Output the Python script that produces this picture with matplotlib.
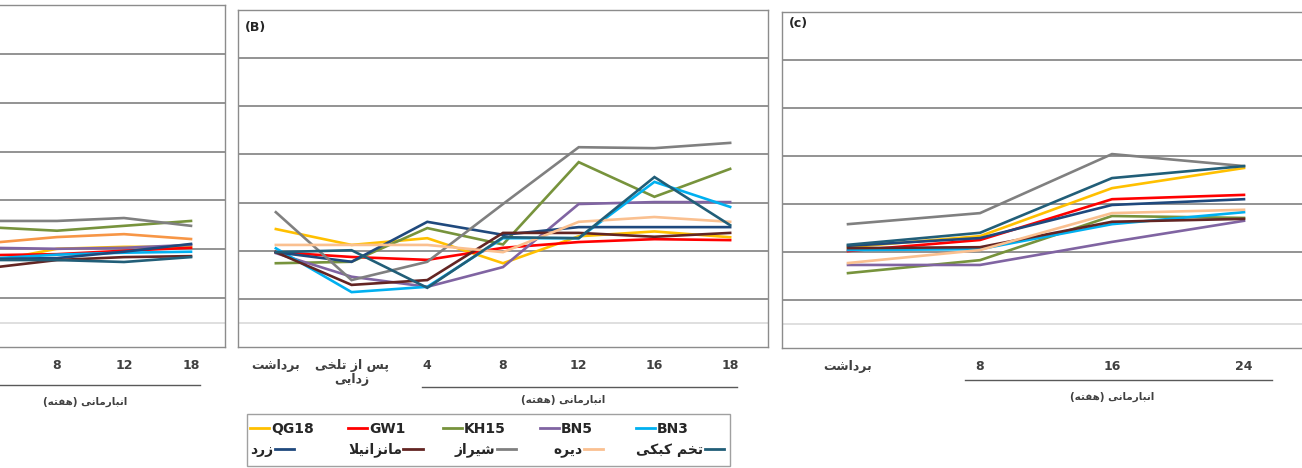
import matplotlib
matplotlib.use("Agg")
import matplotlib.pyplot as plt
from matplotlib.lines import Line2D
from matplotlib.patches import Rectangle

plt.rcParams["font.family"] = ["DejaVu Sans"]

# ---- data (arbitrary units; gridlines at 1..6) ----
series = ["QG18", "GW1", "KH15", "BN5", "BN3",
          "زرد", "مانزانیلا", "شیراز", "دیره", "تخم کبکی"]
colors = ["#FFC000", "#FF0000", "#77933C", "#8064A2", "#00B0F0",
          "#1F497D", "#632523", "#808080", "#FAC090", "#215E78"]

# panel A is cut by the left edge of the picture: its week-4 point lies off-screen
a_cats = ["4", "8", "12", "18"]
a_qg18 = [1.75, 2.01, 2.05, 2.05]
a_gw1 = [1.88, 1.90, 1.97, 2.03]
a_kh15 = [2.45, 2.38, 2.48, 2.58]
a_bn5 = [2.03, 2.01, 2.03, 2.09]
a_bn3 = [1.81, 1.89, 1.93, 1.95]
a_zard = [1.80, 1.82, 1.95, 2.11]
a_manz = [1.62, 1.78, 1.84, 1.86]
a_shiraz = [2.58, 2.58, 2.64, 2.48]
a_dire = [2.13, 2.25, 2.31, 2.21]
a_tokhm = [1.78, 1.78, 1.74, 1.84]

b_cats = ["برداشت", "پس از تلخی\nزدایی", "4", "8", "12", "16", "18"]
b_qg18 = [2.45, 2.12, 2.26, 1.74, 2.30, 2.40, 2.28]
b_gw1 = [1.97, 1.87, 1.81, 2.06, 2.18, 2.24, 2.22]
b_kh15 = [1.74, 1.77, 2.47, 2.13, 3.84, 3.12, 3.70]
b_bn5 = [1.95, 1.46, 1.25, 1.66, 2.97, 3.01, 3.01]
b_bn3 = [2.05, 1.14, 1.25, 2.26, 2.26, 3.43, 2.91]
b_zard = [1.97, 1.77, 2.60, 2.33, 2.49, 2.49, 2.49]
b_manz = [1.97, 1.29, 1.39, 2.37, 2.37, 2.29, 2.37]
b_shiraz = [2.80, 1.39, 1.77, 2.97, 4.15, 4.13, 4.24]
b_dire = [2.12, 2.12, 2.12, 1.97, 2.60, 2.70, 2.60]
b_tokhm = [1.97, 2.01, 1.23, 2.28, 2.26, 3.53, 2.53]

c_cats = ["برداشت", "8", "16", "24"]
c_qg18 = [2.10, 2.33, 3.33, 3.75]
c_gw1 = [2.02, 2.25, 3.10, 3.19]
c_kh15 = [1.56, 1.83, 2.75, 2.71]
c_bn5 = [1.73, 1.73, 2.21, 2.65]
c_bn3 = [2.04, 2.06, 2.58, 2.83]
c_zard = [2.13, 2.29, 2.98, 3.10]
c_manz = [2.08, 2.10, 2.63, 2.69]
c_shiraz = [2.58, 2.81, 4.04, 3.79]
c_dire = [1.77, 2.04, 2.81, 2.88]
c_tokhm = [2.15, 2.40, 3.54, 3.79]

xlabel = "انبارمانی (هفته)"

# ---- minimal Persian shaping (matplotlib has no bidi / joining) ----
FORMS = {
    "ا": ("\uFE8D", "\uFE8E", None, None),
    "ب": ("\uFE8F", "\uFE90", "\uFE91", "\uFE92"),
    "پ": ("\uFB56", "\uFB57", "\uFB58", "\uFB59"),
    "ت": ("\uFE95", "\uFE96", "\uFE97", "\uFE98"),
    "خ": ("\uFEA5", "\uFEA6", "\uFEA7", "\uFEA8"),
    "د": ("\uFEA9", "\uFEAA", None, None),
    "ر": ("\uFEAD", "\uFEAE", None, None),
    "ز": ("\uFEAF", "\uFEB0", None, None),
    "س": ("\uFEB1", "\uFEB2", "\uFEB3", "\uFEB4"),
    "ش": ("\uFEB5", "\uFEB6", "\uFEB7", "\uFEB8"),
    "ف": ("\uFED1", "\uFED2", "\uFED3", "\uFED4"),
    "ک": ("\uFB8E", "\uFB8F", "\uFB90", "\uFB91"),
    "ل": ("\uFEDD", "\uFEDE", "\uFEDF", "\uFEE0"),
    "م": ("\uFEE1", "\uFEE2", "\uFEE3", "\uFEE4"),
    "ن": ("\uFEE5", "\uFEE6", "\uFEE7", "\uFEE8"),
    "ه": ("\uFEE9", "\uFEEA", "\uFEEB", "\uFEEC"),
    "ی": ("\uFBFC", "\uFBFD", "\uFBFE", "\uFBFF"),
}


def fa(text):
    lines = []
    for line in text.split("\n"):
        if not any(ch in FORMS for ch in line):
            lines.append(line)
            continue
        res, i = [], 0
        while i < len(line):
            ch = line[i]
            if ch not in FORMS:
                res.append(ch)
                i += 1
                continue
            prev = line[i - 1] if i > 0 else ""
            pj = prev in FORMS and FORMS[prev][2] is not None
            if ch == "ل" and i + 1 < len(line) and line[i + 1] == "ا":
                res.append("\uFEFC" if pj else "\uFEFB")
                i += 2
                continue
            nxt = line[i + 1] if i + 1 < len(line) else ""
            nj = FORMS[ch][2] is not None and nxt in FORMS
            iso, fin, ini, med = FORMS[ch]
            res.append(med if (pj and nj) else fin if pj else ini if nj else iso)
            i += 1
        lines.append("".join(reversed(res)).translate(str.maketrans("()", ")(")))
    return "\n".join(lines)


W, H = 1302, 468
fig = plt.figure(figsize=(W / 100, H / 100), dpi=100)


def px_axes(left, top, right, bottom):
    return fig.add_axes([left / W, (H - bottom) / H, (right - left) / W, (bottom - top) / H])


TXT = "#404040"


def panel(ax, cats, data, line_span, line_y, lab_x, lab_y, color_override=None, first_tick=0):
    x = list(range(len(cats)))
    for name, col, vals in zip(series, colors, data):
        if color_override and name in color_override:
            col = color_override[name]
        ax.plot(x, vals, color=col, lw=1.9, solid_joinstyle="miter")
    ax.set_xlim(-0.5, len(cats) - 0.5)
    ax.set_ylim(0, 7)
    ax.set_yticks(range(1, 7))
    ax.yaxis.grid(True, color="#8a8a8a", lw=1.3)
    ax.axhline(0.5, color="#dcdcdc", lw=1.3, zorder=0)
    ax.set_axisbelow(True)
    ax.tick_params(left=False, labelleft=False, bottom=False)
    ax.set_xticks(x[first_tick:])
    ax.set_xticklabels([fa(c) for c in cats[first_tick:]], fontsize=9, fontweight="bold",
                       color=TXT, linespacing=1.15)
    ax.tick_params(axis="x", pad=5)
    for s in ax.spines.values():
        s.set_color("#8c8c8c")
        s.set_linewidth(1.0)
    tr = ax.get_xaxis_transform()
    ax.plot(line_span, [line_y, line_y], color="#595959", lw=1.0, transform=tr, clip_on=False)
    ax.text(lab_x, lab_y, fa(xlabel), transform=tr, ha="center", va="center",
            fontsize=7.5, fontweight="bold", color=TXT)


axA = px_axes(-43.5, 5, 224.5, 347)
panel(axA, a_cats, [a_qg18, a_gw1, a_kh15, a_bn5, a_bn3, a_zard, a_manz, a_shiraz, a_dire, a_tokhm],
      [-0.4, 3.13], -0.111, 1.42, -0.161, color_override={"دیره": "#F79646"}, first_tick=1)

axB = px_axes(238, 10, 768, 347)
panel(axB, b_cats, [b_qg18, b_gw1, b_kh15, b_bn5, b_bn3, b_zard, b_manz, b_shiraz, b_dire, b_tokhm],
      [1.93, 6.09], -0.119, 3.79, -0.157)
axB.text(0.013, 0.947, "(B)", transform=axB.transAxes, fontsize=9, fontweight="bold",
         color="#262626", va="center", ha="left")

axC = px_axes(782, 12, 1310, 348)
panel(axC, c_cats, [c_qg18, c_gw1, c_kh15, c_bn5, c_bn3, c_zard, c_manz, c_shiraz, c_dire, c_tokhm],
      [0.886, 3.21], -0.095, 2.0, -0.146)
axC.text(0.013, 0.967, "(c)", transform=axC.transAxes, fontsize=9, fontweight="bold",
         color="#262626", va="center", ha="left")

# ---- legend: boxed, two rows, five columns ----
fig.patches.append(Rectangle((247 / W, (H - 466) / H), (730 - 247) / W, (466 - 414) / H,
                             transform=fig.transFigure, fill=False, ec="#a0a0a0", lw=1.0))
col_x = [250, 348, 443, 540, 636]
row2_x = [250, 348, 455, 553, 636]
for i, (name, col) in enumerate(zip(series, colors)):
    row, c = divmod(i, 5)
    handle = Line2D([], [], color=col, lw=2.0)
    xx = col_x[c] if row == 0 else row2_x[c]
    yy = 429 if row == 0 else 450
    leg = fig.legend([handle], [fa(name)], loc="center left",
                     bbox_to_anchor=(xx / W, (H - yy) / H), frameon=False,
                     handlelength=1.4, handletextpad=0.1, borderaxespad=0, borderpad=0,
                     markerfirst=(row == 0),
                     prop={"size": 10, "weight": "bold"})
    for t in leg.get_texts():
        t.set_color("#262626")

fig.savefig("out.png", dpi=100)
